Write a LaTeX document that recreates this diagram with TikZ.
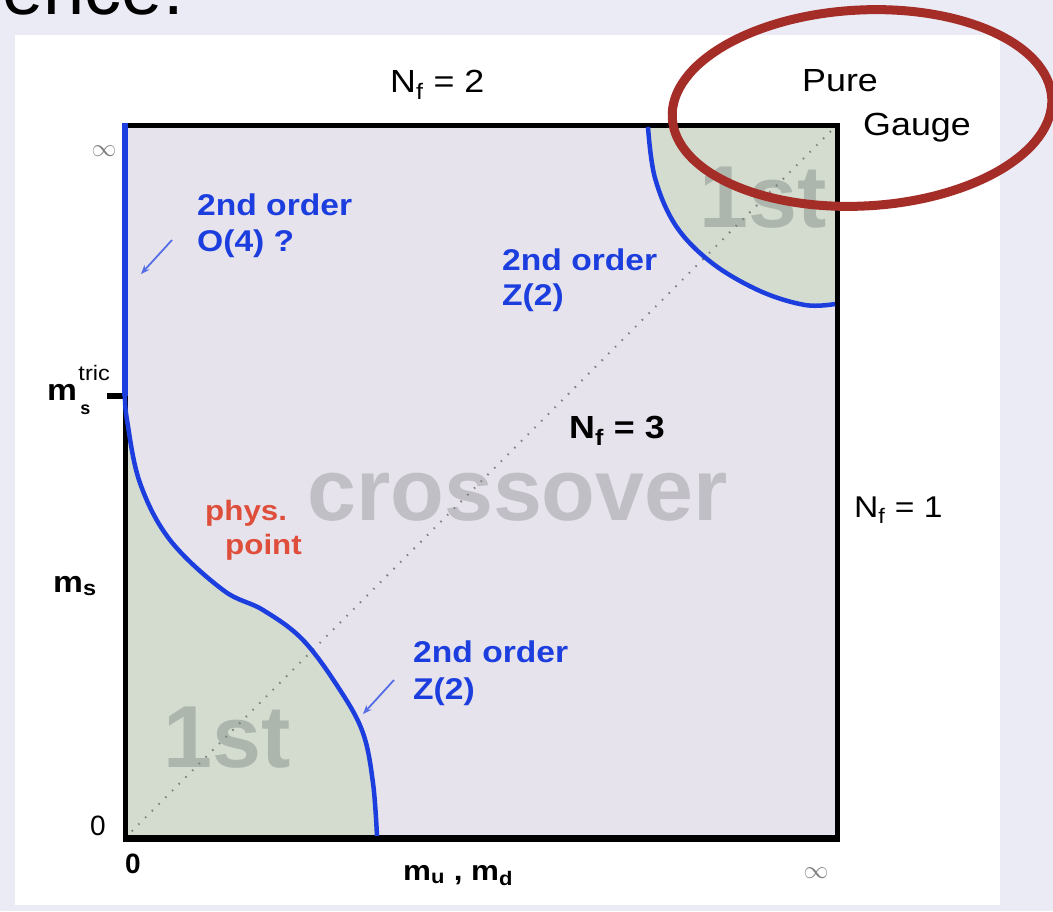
\documentclass[tikz,border=0pt]{standalone}
\usepackage{fontspec}
\setmainfont{Liberation Sans}
\usepackage{tikz}
\usetikzlibrary{positioning, arrows.meta}

\definecolor{slidebg}{RGB}{235,235,246}
\definecolor{regionbg}{RGB}{231,227,236}
\definecolor{firstbg}{RGB}{212,220,208}
\definecolor{lineblue}{RGB}{28,62,222}
\definecolor{physred}{RGB}{222,78,58}
\definecolor{ringred}{RGB}{165,45,40}
\definecolor{crossgray}{RGB}{192,191,198}
\definecolor{firstgray}{RGB}{172,182,172}

\newcommand{\fsz}[1]{\fontsize{#1}{#1}\selectfont}
\newcommand{\hstretch}[1]{\scalebox{1.12}[1]{#1}}

\tikzset{
  lbl/.style={inner sep=0pt, anchor=base west, font=\fsz{32}},
  boldlbl/.style={lbl, font=\bfseries\fsz{30}},
  bluelbl/.style={lbl, text=lineblue, font=\bfseries\fsz{30}},
  redlbl/.style={lbl, text=physred, font=\bfseries\fsz{28}},
  biglbl/.style={lbl, font=\bfseries\fsz{88}},
  pointer/.style={-{Stealth[length=9pt, width=7pt]}, line width=1.8pt, lineblue!75},
  curve/.style={lineblue, line width=4.5pt},
}

\begin{document}
\begin{tikzpicture}[x=1pt, y=-1pt, >=Stealth]
    \useasboundingbox (0,0) rectangle (1053,911);
    \clip (0,0) rectangle (1053,911);
    \fill[slidebg] (0,0) rectangle (1053,911);
    % slide heading, cut by the top edge
    \node[lbl, font=\fsz{74}] (heading) at (-14,14) {ience.};
    \fill[white] (15,35) rectangle (1000,905);

    % corners of the plot
    \coordinate (O) at (125,838);
    \coordinate (TL) at (125,125);
    \coordinate (TR) at (837,125);
    \coordinate (BR) at (837,838);
    \coordinate (tric) at (125,396);
    \coordinate (tick) at (107,396);
    \fill[regionbg] (O) rectangle (TR);

    % first order corners
    \fill[firstbg] plot[smooth, tension=0.6] coordinates {(125,396) (127,420) (140,483) (170,540) (223,590) (263,610) (303,640) (340,690) (363,733) (373,783) (377,838)} -- (O) -- cycle;
    \fill[firstbg] plot[smooth, tension=0.6] coordinates {(648,125) (655,178) (676,226) (712,263) (760,291) (805,305) (837,304)} -- (TR) -- cycle;
    \node[biglbl, text=firstgray] (firstlow) at (163,767) {1st};
    \node[biglbl, text=firstgray] (firsthigh) at (699,227) {1st};
    \node[biglbl, text=crossgray] (cross) at (307,520) {crossover};

    % Nf = 3 diagonal
    \draw[gray, line width=2pt, dash pattern=on 1.5pt off 8pt] (O) -- (TR);

    % frame
    \draw[line width=5pt, line join=miter] (TL) -- (TR) -- (BR) -- (O) -- cycle;
    \draw[line width=7pt] ([xshift=-2.5pt]O) -- ([xshift=2.5pt]BR);
    \draw[line width=6pt] (tick) -- (tric);

    % second order lines
    \draw[lineblue, line width=6pt] ([yshift=2.5pt]TL) -- (tric);
    \draw[curve] plot[smooth, tension=0.6] coordinates {(125,396) (127,420) (140,483) (170,540) (223,590) (263,610) (303,640) (340,690) (363,733) (373,783) (377,836)};
    \draw[curve] plot[smooth, tension=0.6] coordinates {(648,127) (655,178) (676,226) (712,263) (760,291) (805,305) (835,304)};

    % labels inside
    \node[bluelbl] (oa) at (197,215) {\hstretch{2nd order}};
    \node[bluelbl] (ob) at (197,251) {\hstretch{O(4) ?}};
    \node[bluelbl] (za) at (502,270) {\hstretch{2nd order}};
    \node[bluelbl] (zb) at (502,305) {\hstretch{Z(2)}};
    \node[bluelbl] (zc) at (413,662) {\hstretch{2nd order}};
    \node[bluelbl] (zd) at (413,699) {\hstretch{Z(2)}};
    \coordinate (oatail) at (172,240);
    \coordinate (oatip) at (141,274);
    \coordinate (zctail) at (394,680);
    \coordinate (zctip) at (363,714);
    \draw[pointer] (oatail) -- (oatip);
    \draw[pointer] (zctail) -- (zctip);
    \node[redlbl] (phys) at (205,520) {\hstretch{phys.}};
    \node[redlbl] (point) at (225,554) {\hstretch{point}};
    \node[boldlbl, font=\bfseries\fsz{32}] (nf3) at (569,438) {\hstretch{N\textsubscript{f} = 3}};

    % labels outside
    \node[lbl] (nf2) at (390,92) {\hstretch{N\textsubscript{f} = 2}};
    \node[lbl] (pure) at (802,91) {\hstretch{Pure}};
    \node[lbl] (gauge) at (863,135) {\hstretch{Gauge}};
    \node[lbl, font=\fsz{30}] (nf1) at (854,517) {\hstretch{N\textsubscript{f} = 1}};
    \node[inner sep=0pt, text=gray, font=\fsz{28}] (inftop) at (104,151) {$\infty$};
    \node[inner sep=0pt, text=gray, font=\fsz{28}] (infright) at (816,873) {$\infty$};
    \node[boldlbl] (mtric) at (47,400) {\hstretch{m}};
    \node[inner sep=0pt, font=\fsz{21}, above right=3pt and 1pt of mtric.north east] (tricsup) {\hstretch{tric}};
    \node[inner sep=0pt, font=\bfseries\fsz{18}, below right=4pt and 3pt of mtric.south east] (tricsub) {s};
    \node[boldlbl] (ms) at (53,592) {\hstretch{m\textsubscript{s}}};
    \node[lbl, font=\fsz{28}] (zeroy) at (90,835) {0};
    \node[lbl, font=\bfseries\fsz{28}] (zerox) at (125,873) {0};
    \node[boldlbl, font=\bfseries\fsz{28}] (mumd) at (403,880) {\hstretch{m\textsubscript{u} , m\textsubscript{d}}};

    % circled corner
    \draw[ringred, line width=9pt, rotate around={3:(862,108)}] (862,108) ellipse [x radius=190pt, y radius=98pt];
\end{tikzpicture}
\end{document}
